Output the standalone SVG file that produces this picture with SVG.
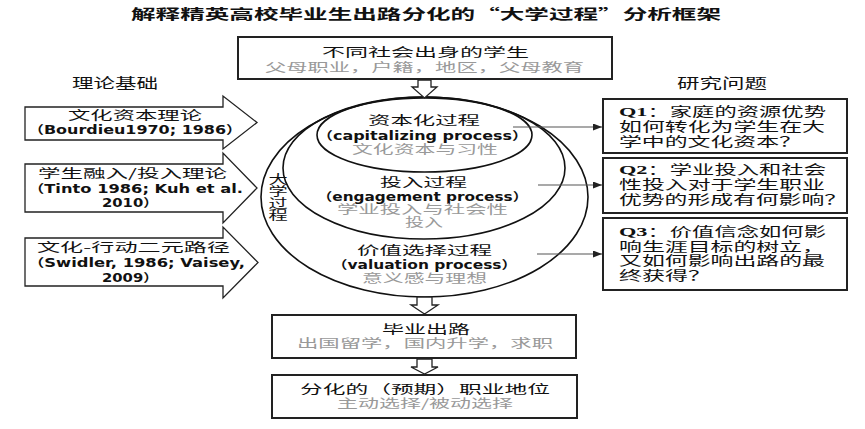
<svg xmlns="http://www.w3.org/2000/svg" width="865" height="429" viewBox="0 0 865 429">
<style>
text{font-family:"Noto Sans CJK SC","DejaVu Sans",sans-serif;fill:#111;}
.t{font-size:12.5px;}
.g{font-size:12px;fill:#999;}
.h{font-size:14px;font-weight:bold;}
.l{font-size:14px;}
.v{font-size:12px;writing-mode:vertical-rl;}
.lat{font-family:"DejaVu Sans","Noto Sans CJK SC",sans-serif;font-size:11.5px;font-weight:bold;}
.q{font-family:"Liberation Serif","Noto Sans CJK SC",serif;font-size:13px;}
.box{fill:#fff;stroke:#222;stroke-width:2;}
.blk{fill:#fff;stroke:#222;stroke-width:1.3;stroke-linejoin:miter;}
.ell{fill:none;stroke:#111;stroke-width:1.6;}
.con{stroke:#555;stroke-width:1.2;fill:none;}
</style>
<defs>
<marker id="ah" markerUnits="userSpaceOnUse" markerWidth="9" markerHeight="7" refX="9" refY="3.5" orient="auto">
<path d="M0,0 L9,3.5 L0,7 z" fill="#222"/>
</marker>
</defs>
<rect width="865" height="429" fill="#fff"/>
<text class="h" x="131" y="19" textLength="590" lengthAdjust="spacingAndGlyphs">解释精英高校毕业生出路分化的“大学过程”分析框架</text>
<text class="l" x="72" y="88" textLength="86" lengthAdjust="spacingAndGlyphs">理论基础</text>
<text class="l" x="677" y="88" textLength="90" lengthAdjust="spacingAndGlyphs">研究问题</text>

<g id="students">
<rect class="box" x="238" y="37" width="374" height="42"/>
<text class="t" x="322" y="57" textLength="207" lengthAdjust="spacingAndGlyphs">不同社会出身的学生</text>
<text class="g" x="265" y="72" textLength="319" lengthAdjust="spacingAndGlyphs">父母职业，户籍，地区，父母教育</text>
</g>

<g id="theory-1">
<polygon class="blk" points="25,107 223,107 223,96 257,122.5 223,149 223,140 25,140"/>
<text class="t" x="68" y="120" textLength="134" lengthAdjust="spacingAndGlyphs">文化资本理论</text>
<text class="lat" x="28" y="134" textLength="214" lengthAdjust="spacingAndGlyphs">（Bourdieu1970; 1986）</text>
</g>
<g id="theory-2">
<polygon class="blk" points="25,164 223,164 223,153 257,188 223,223 223,212 25,212"/>
<text class="t" x="38" y="178" textLength="189" lengthAdjust="spacingAndGlyphs">学生融入/投入理论</text>
<text class="lat" x="28" y="193" textLength="215" lengthAdjust="spacingAndGlyphs">（Tinto 1986; Kuh et al.</text>
<text class="lat" x="102" y="207" textLength="56" lengthAdjust="spacingAndGlyphs">2010）</text>
</g>
<g id="theory-3">
<polygon class="blk" points="25,238 223,238 223,227 258,262.5 223,298 223,286 25,286"/>
<text class="t" x="37" y="252" textLength="193" lengthAdjust="spacingAndGlyphs">文化-行动二元路径</text>
<text class="lat" x="28" y="267" textLength="217" lengthAdjust="spacingAndGlyphs">（Swidler, 1986; Vaisey,</text>
<text class="lat" x="102" y="282" textLength="56" lengthAdjust="spacingAndGlyphs">2009）</text>
</g>

<g id="university-process">
<ellipse class="ell" cx="424.5" cy="197" rx="163.5" ry="100"/>
<text class="v" transform="translate(278,0) scale(1.6,1)" x="0" y="173">大学过程</text>
</g>
<g id="engagement">
<ellipse class="ell" cx="424" cy="168" rx="141" ry="71"/>
<text class="t" x="380" y="187" textLength="87" lengthAdjust="spacingAndGlyphs">投入过程</text>
<text class="lat" x="317" y="201" textLength="211" lengthAdjust="spacingAndGlyphs">（engagement process）</text>
<text class="g" x="337" y="214" textLength="171" lengthAdjust="spacingAndGlyphs">学业投入与社会性</text>
<text class="g" x="405" y="227" textLength="38" lengthAdjust="spacingAndGlyphs">投入</text>
</g>
<g id="capitalizing">
<ellipse class="ell" cx="424.5" cy="135" rx="107.5" ry="37"/>
<text class="t" x="368" y="125" textLength="112" lengthAdjust="spacingAndGlyphs">资本化过程</text>
<text class="lat" x="317" y="140" textLength="211" lengthAdjust="spacingAndGlyphs">（capitalizing process）</text>
<text class="g" x="352" y="154" textLength="146" lengthAdjust="spacingAndGlyphs">文化资本与习性</text>
</g>
<g id="valuation">
<text class="t" x="357" y="255" textLength="135" lengthAdjust="spacingAndGlyphs">价值选择过程</text>
<text class="lat" x="332" y="269" textLength="185" lengthAdjust="spacingAndGlyphs">（valuation process）</text>
<text class="g" x="362" y="283" textLength="125" lengthAdjust="spacingAndGlyphs">意义感与理想</text>
</g>

<g id="q1">
<rect class="box" x="603" y="99" width="244" height="54"/>
<text class="q" x="619" y="116" textLength="207" lengthAdjust="spacingAndGlyphs"><tspan font-weight="bold">Q1</tspan>：家庭的资源优势</text>
<text class="q" x="619" y="131" textLength="206" lengthAdjust="spacingAndGlyphs">如何转化为学生在大</text>
<text class="q" x="619" y="146" textLength="183" lengthAdjust="spacingAndGlyphs">学中的文化资本？</text>
</g>
<g id="q2">
<rect class="box" x="603" y="158" width="244" height="55"/>
<text class="q" x="619" y="174" textLength="207" lengthAdjust="spacingAndGlyphs"><tspan font-weight="bold">Q2</tspan>：学业投入和社会</text>
<text class="q" x="619" y="189" textLength="206" lengthAdjust="spacingAndGlyphs">性投入对于学生职业</text>
<text class="q" x="619" y="204" textLength="228" lengthAdjust="spacingAndGlyphs">优势的形成有何影响？</text>
</g>
<g id="q3">
<rect class="box" x="603" y="218" width="244" height="72"/>
<text class="q" x="619" y="236" textLength="207" lengthAdjust="spacingAndGlyphs"><tspan font-weight="bold">Q3</tspan>：价值信念如何影</text>
<text class="q" x="619" y="251" textLength="206" lengthAdjust="spacingAndGlyphs">响生涯目标的树立，</text>
<text class="q" x="619" y="265" textLength="206" lengthAdjust="spacingAndGlyphs">又如何影响出路的最</text>
<text class="q" x="619" y="280" textLength="92" lengthAdjust="spacingAndGlyphs">终获得？</text>
</g>

<g id="destination">
<rect class="box" x="272" y="315" width="304" height="43"/>
<text class="t" x="382" y="334" textLength="88" lengthAdjust="spacingAndGlyphs">毕业出路</text>
<text class="g" x="297" y="348" textLength="256" lengthAdjust="spacingAndGlyphs">出国留学，国内升学，求职</text>
</g>
<g id="status">
<rect class="box" x="272" y="375" width="305" height="43"/>
<text class="t" x="300" y="394" textLength="250" lengthAdjust="spacingAndGlyphs">分化的（预期）职业地位</text>
<text class="g" x="337" y="408" textLength="176" lengthAdjust="spacingAndGlyphs">主动选择/被动选择</text>
</g>

<g id="connectors">
<polygon class="blk" points="418,80 431,80 431,87 437,87 424.5,98 412,87 418,87"/>
<polygon class="blk" points="417,297 432,297 432,305 438,305 424.5,314 411,305 417,305"/>
<polygon class="blk" points="417,359 432,359 432,367 438,367 424.5,374 411,367 417,367"/>
<line class="con" x1="513" y1="127" x2="602" y2="127" marker-end="url(#ah)"/>
<line class="con" x1="538" y1="185" x2="602" y2="185" marker-end="url(#ah)"/>
<line class="con" x1="537" y1="254" x2="602" y2="254" marker-end="url(#ah)"/>
</g>
</svg>
